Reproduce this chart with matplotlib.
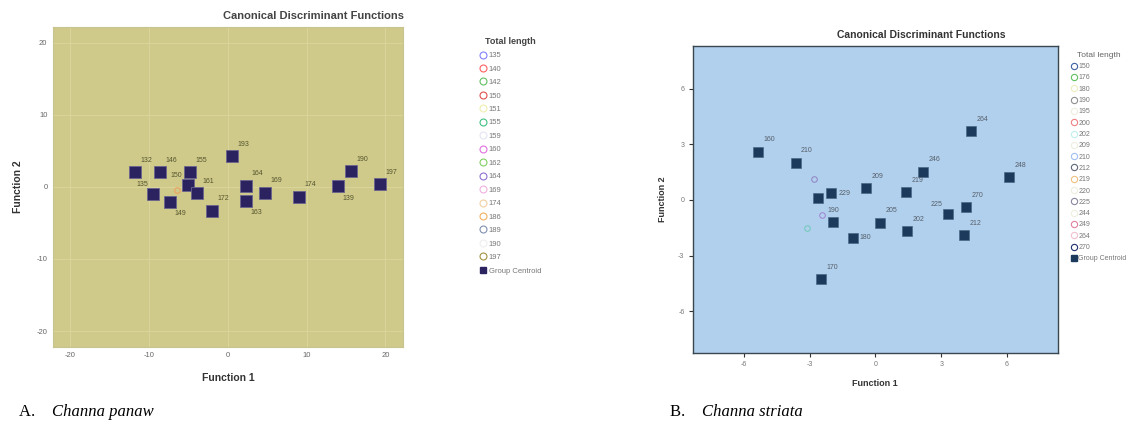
import matplotlib
matplotlib.use("Agg")
import matplotlib.pyplot as plt
from matplotlib.lines import Line2D

plt.rcParams['font.family'] = ['Liberation Sans', 'DejaVu Sans']
plt.rcParams['axes.unicode_minus'] = False

# ---- Panel A: Channa panaw ----
a_x = [-11.8, -8.6, -4.8, -5.1, -9.45, -3.96, -7.34, -2.07, 0.47, 2.28, 2.28, 4.68, 9.03, 13.97, 15.57, 19.3]
a_y = [2.0, 2.0, 2.0, 0.28, -0.97, -0.88, -2.04, -3.29, 4.21, 0.14, -1.9, -0.79, -1.34, 0.05, 2.22, 0.37]
a_labels = ["132", "146", "155", "150", "135", "161", "149", "172", "193", "164",
            "163", "169", "174", "139", "190", "197"]
a_legend = ["135", "140", "142", "150", "151", "155", "159", "160", "162", "164",
            "169", "174", "186", "189", "190", "197"]
a_case_x = [-6.5]
a_case_y = [-0.4]

# ---- Panel B: Channa striata ----
b_x = [-5.37, -3.65, -2.63, -2.02, -0.43, -1.92, -1.04, 0.21, 1.40, 2.19, 4.37, 6.09, 1.45, 3.30, 4.14, 4.02, -2.48]
b_y = [2.60, 2.01, 0.12, 0.36, 0.63, -1.20, -2.03, -1.22, 0.41, 1.52, 3.71, 1.22, -1.67, -0.75, -0.39, -1.88, -4.27]
b_labels = ["160", "210", "", "229", "209", "190", "180", "205", "219", "246",
            "264", "248", "202", "225", "270", "212", "170"]
b_legend = ["150", "176", "180", "190", "195", "200", "202", "209", "210", "212",
            "219", "220", "225", "244", "249", "264", "270"]
b_case_x = [-2.82, -2.43, -3.14]
b_case_y = [1.11, -0.81, -1.52]

# label placement (layout only)
a_place = ['ur', 'ur', 'ur', 'ul', 'ul', 'ur', 'lr', 'ur', 'ur', 'ur', 'lr', 'ur', 'ur', 'lr', 'ur', 'ur']
b_place = ['ur', 'ur', 'ur', 'r', 'ur', 'u', 'r', 'ur', 'ur', 'ur', 'ur', 'ur', 'ur', 'ul', 'ur', 'ur', 'ur']

a_colors = ['#8080ff', '#ff6060', '#60c060', '#e05050', '#eeeeb0', '#40c080', '#e4e4f4', '#e070e0',
            '#80d060', '#9070d0', '#f0b0e0', '#f0d0a0', '#f0b060', '#8090b0', '#eeeeee', '#a09040']
b_colors = ['#4060a0', '#60c060', '#eeeec0', '#909090', '#eeeee0', '#f08080', '#c0eeee', '#eeeee0',
            '#a0c0f0', '#606878', '#f0c080', '#eeeee0', '#8888a0', '#eeeee0', '#e080a0', '#f0c0d0', '#203070']

offsets = {'ur': (4, 6, 'left', 'bottom'), 'ul': (-4, 4, 'right', 'bottom'),
           'lr': (3, -6, 'left', 'top'), 'r': (5, 0, 'left', 'center'),
           'u': (0, 6, 'center', 'bottom')}

fig = plt.figure(figsize=(11.47, 4.32), dpi=100)

# Panel A axes
ax1 = fig.add_axes([0.0462, 0.197, 0.305, 0.741])
ax1.set_facecolor('#cfc98a')
ax1.set_xlim(-22.2, 22.2)
ax1.set_ylim(-22.2, 22.2)
ax1.set_xticks([-20, -10, 0, 10, 20])
ax1.set_yticks([-20, -10, 0, 10, 20])
ax1.grid(True, color='#d8d49c', linewidth=0.8)
ax1.set_axisbelow(True)
ax1.tick_params(length=0, labelsize=5.5, labelcolor='#666666', pad=4)
for s in ax1.spines.values():
    s.set_color('#c8c490')
ax1.plot(a_case_x, a_case_y, 'o', mfc='none', mec='#f0a060', ms=4, mew=0.8)
ax1.plot(a_x, a_y, 's', color='#2b2360', mec='#6a6490', ms=8, mew=0.6)
for x, y, t, p in zip(a_x, a_y, a_labels, a_place):
    dx, dy, ha, va = offsets[p]
    ax1.annotate(t, (x, y), xytext=(dx, dy), textcoords='offset points',
                 ha=ha, va=va, fontsize=5, color='#55552e')
ax1.set_xlabel("Function 1", fontsize=7.5, fontweight='bold', color='#333333', labelpad=10)
ax1.set_ylabel("Function 2", fontsize=7.5, fontweight='bold', color='#333333', labelpad=10)
fig.text(0.352, 0.962, "Canonical Discriminant Functions", ha='right', va='center',
         fontsize=8, fontweight='bold', color='#444444')

# Panel B axes
ax2 = fig.add_axes([0.604, 0.183, 0.318, 0.711])
ax2.set_facecolor('#b1d0ed')
ax2.set_xlim(-8.34, 8.31)
ax2.set_ylim(-8.24, 8.3)
ax2.set_xticks([-6, -3, 0, 3, 6])
ax2.set_yticks([-6, -3, 0, 3, 6])
ax2.tick_params(length=3, width=0.8, color='#333333', labelsize=5, labelcolor='#777777', pad=3)
for s in ax2.spines.values():
    s.set_color('#3a4650')
    s.set_linewidth(1)
for x, y, c in zip(b_case_x, b_case_y, ['#9080c0', '#a080d0', '#70c8b8']):
    ax2.plot(x, y, 'o', mfc='none', mec=c, ms=4, mew=0.7)
ax2.plot(b_x, b_y, 's', color='#1b3a5c', mec='#4a6a8a', ms=7, mew=0.5)
for x, y, t, p in zip(b_x, b_y, b_labels, b_place):
    dx, dy, ha, va = offsets[p]
    ax2.annotate(t, (x, y), xytext=(dx, dy), textcoords='offset points',
                 ha=ha, va=va, fontsize=5, color='#555f6a')
ax2.set_xlabel("Function 1", fontsize=6.5, fontweight='bold', color='#333333', labelpad=8)
ax2.set_ylabel("Function 2", fontsize=6.5, fontweight='bold', color='#333333', labelpad=8)
fig.text(0.803, 0.918, "Canonical Discriminant Functions", ha='center', va='center',
         fontsize=7.5, fontweight='bold', color='#333333')

# Legends
def legend_handles(values, colors, cent_color, ms):
    hs = [Line2D([], [], marker='o', ls='none', mfc='none', mec=c, ms=ms, mew=0.8)
          for c in colors]
    hs.append(Line2D([], [], marker='s', ls='none', color=cent_color, ms=ms))
    return hs, list(values) + ["Group Centroid"]

h, l = legend_handles(a_legend, a_colors, '#2b2360', 5)
leg1 = fig.legend(h, l, loc='upper left', bbox_to_anchor=(0.418, 0.915), frameon=False,
                  title="Total length", fontsize=5.5, labelspacing=0.8, handlelength=0.8,
                  handletextpad=0.4, borderpad=0, borderaxespad=0)
leg1.get_title().set_fontweight('bold')
leg1.get_title().set_fontsize(6.5)
leg1.get_title().set_color('#444444')
for t in leg1.get_texts():
    t.set_color('#777777')

h, l = legend_handles(b_legend, b_colors, '#1b3a5c', 4.5)
leg2 = fig.legend(h, l, loc='upper left', bbox_to_anchor=(0.934, 0.88), frameon=False,
                  title="Total length", fontsize=5, labelspacing=0.62, handlelength=0.7,
                  handletextpad=0.3, borderpad=0, borderaxespad=0)
leg2.get_title().set_fontsize(6)
leg2.get_title().set_color('#666666')
for t in leg2.get_texts():
    t.set_color('#777777')

# Captions
fig.text(0.017, 0.047, "A.  ", fontsize=12, family='Liberation Serif', va='center')
fig.text(0.045, 0.047, "Channa panaw", fontsize=12, family='Liberation Serif',
         style='italic', va='center')
fig.text(0.584, 0.047, "B.  ", fontsize=12, family='Liberation Serif', va='center')
fig.text(0.612, 0.047, "Channa striata", fontsize=12, family='Liberation Serif',
         style='italic', va='center')

fig.savefig("out.png", dpi=100, facecolor='white')
